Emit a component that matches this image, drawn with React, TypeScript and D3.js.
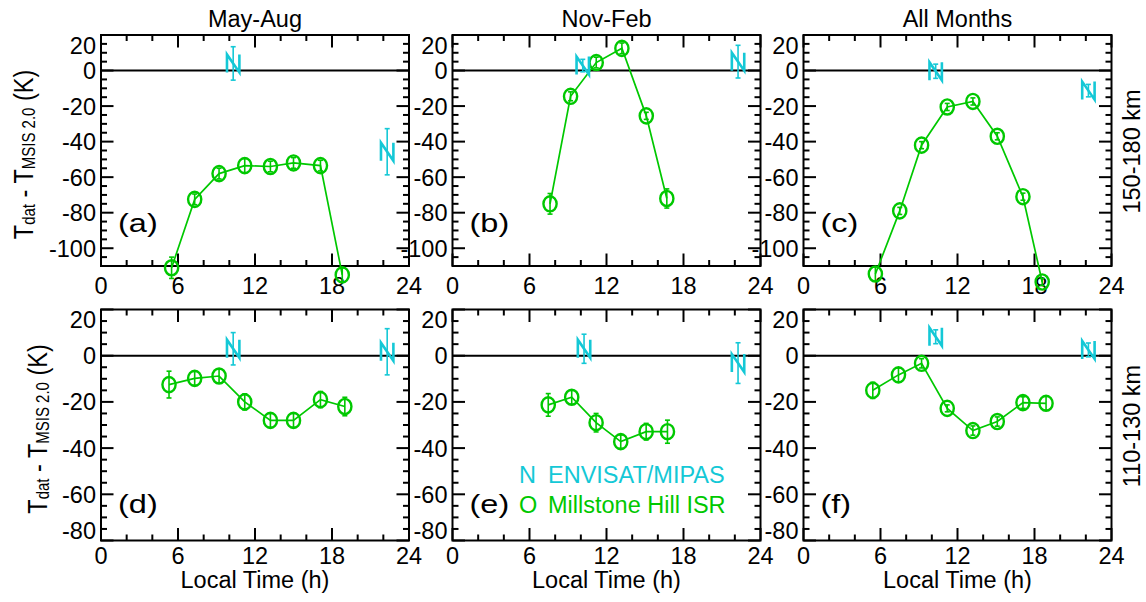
import React from 'react';
import * as d3 from 'd3';

// Temperature differences T_dat - T_MSIS2.0 (K) against local time (h).

// ---- 150-180 km ----
const isrTimeMayAugUpper = [5.5, 7.3, 9.2, 11.2, 13.2, 15.0, 17.1, 18.8];
const isrDiffMayAugUpper = [-111, -72.5, -58, -53.5, -54, -52, -53.5, -115];
const isrErrMayAugUpper = [6, 3, 3, 4, 3, 3, 3, 4];
const mipasTimeMayAugUpper = [10.3, 22.3];
const mipasDiffMayAugUpper = [4, -45.7];
const mipasErrMayAugUpper = [9.4, 13];

const isrTimeNovFebUpper = [7.6, 9.2, 11.2, 13.2, 15.1, 16.7];
const isrDiffNovFebUpper = [-75, -14.5, 4.5, 12.5, -25.5, -72];
const isrErrNovFebUpper = [5.8, 2.5, 3, 3, 2, 5.4];
const mipasTimeNovFebUpper = [10.15, 22.25];
const mipasDiffNovFebUpper = [2.8, 5];
const mipasErrNovFebUpper = [3.5, 9.2];

const isrTimeAllUpper = [5.6, 7.5, 9.2, 11.2, 13.2, 15.1, 17.1, 18.6];
const isrDiffAllUpper = [-114.5, -79, -42, -20.5, -17.4, -37, -71, -119];
const isrErrAllUpper = [4, 2, 2, 2, 2, 2, 2, 2];
const mipasTimeAllUpper = [10.3, 22.2];
const mipasDiffAllUpper = [-0.4, -11.3];
const mipasErrAllUpper = [4, 3.5];

// ---- 110-130 km ----
const isrTimeMayAugLower = [5.3, 7.3, 9.2, 11.2, 13.2, 15.0, 17.1, 19.0];
const isrDiffMayAugLower = [-12.5, -9.8, -8.8, -20, -28, -28, -19, -22];
const isrErrMayAugLower = [5.8, 3, 3, 3.5, 3, 3, 3.5, 4];
const mipasTimeMayAugLower = [10.3, 22.3];
const mipasDiffMayAugLower = [3, 1.7];
const mipasErrMayAugLower = [7, 10];

const isrTimeNovFebLower = [7.46, 9.29, 11.19, 13.11, 15.09, 16.75];
const isrDiffNovFebLower = [-21.3, -18, -29, -37.2, -32.9, -32.9];
const isrErrNovFebLower = [4.9, 3, 4, 2.9, 3.6, 5];
const mipasTimeNovFebLower = [10.25, 22.25];
const mipasDiffNovFebLower = [3, -3.2];
const mipasErrNovFebLower = [6.3, 8.8];

const isrTimeAllLower = [5.4, 7.4, 9.2, 11.2, 13.2, 15.1, 17.1, 18.9];
const isrDiffAllLower = [-15, -8.3, -3.3, -22.8, -32.4, -28.5, -20.3, -20.6];
const isrErrAllLower = [3.5, 3, 2, 1.5, 2, 2, 2.5, 3];
const mipasTimeAllLower = [10.3, 22.2];
const mipasDiffAllLower = [8.2, 2.5];
const mipasErrAllLower = [3, 3];

// ---- axes ----
const seasonTitles = ['May-Aug', 'Nov-Feb', 'All Months'];
const panelTags = [['(a)', '(b)', '(c)'], ['(d)', '(e)', '(f)']];
const altitudeLabels = ['150-180 km', '110-130 km'];
const xTicks = [0, 6, 12, 18, 24];
const yTicksUpper = [-100, -80, -60, -40, -20, 0, 20];
const yTicksLower = [-80, -60, -40, -20, 0, 20];
const yDomainUpper = [-110, 20];
const yDomainLower = [-80, 20];
const legendLabels = ['ENVISAT/MIPAS', 'Millstone Hill ISR'];

const FONT = "'Liberation Sans', Arial, Helvetica, sans-serif";
const GREEN = '#00c800';
const CYAN = '#14c8d6';

const colLeft = [101, 452.5, 803.5];
const panelW = 308;
const rowTop = [35, 309.5];
const panelH = 231;

type Series = { t: number[]; d: number[]; e: number[] };

const rows = [
  {
    domain: yDomainUpper,
    ticks: yTicksUpper,
    xLabelBase: 294,
    tagBase: 232,
    yTitleX: 33,
    panels: [
      { isr: { t: isrTimeMayAugUpper, d: isrDiffMayAugUpper, e: isrErrMayAugUpper }, mipas: { t: mipasTimeMayAugUpper, d: mipasDiffMayAugUpper, e: mipasErrMayAugUpper } },
      { isr: { t: isrTimeNovFebUpper, d: isrDiffNovFebUpper, e: isrErrNovFebUpper }, mipas: { t: mipasTimeNovFebUpper, d: mipasDiffNovFebUpper, e: mipasErrNovFebUpper } },
      { isr: { t: isrTimeAllUpper, d: isrDiffAllUpper, e: isrErrAllUpper }, mipas: { t: mipasTimeAllUpper, d: mipasDiffAllUpper, e: mipasErrAllUpper } },
    ],
  },
  {
    domain: yDomainLower,
    ticks: yTicksLower,
    xLabelBase: 564,
    tagBase: 513,
    yTitleX: 47,
    panels: [
      { isr: { t: isrTimeMayAugLower, d: isrDiffMayAugLower, e: isrErrMayAugLower }, mipas: { t: mipasTimeMayAugLower, d: mipasDiffMayAugLower, e: mipasErrMayAugLower } },
      { isr: { t: isrTimeNovFebLower, d: isrDiffNovFebLower, e: isrErrNovFebLower }, mipas: { t: mipasTimeNovFebLower, d: mipasDiffNovFebLower, e: mipasErrNovFebLower } },
      { isr: { t: isrTimeAllLower, d: isrDiffAllLower, e: isrErrAllLower }, mipas: { t: mipasTimeAllLower, d: mipasDiffAllLower, e: mipasErrAllLower } },
    ],
  },
];

function ErrorBar({ x, y0, y1, color, w }: { x: number; y0: number; y1: number; color: string; w: number }) {
  return (
    <g stroke={color} strokeWidth={w} fill="none">
      <line x1={x} x2={x} y1={y0} y2={y1} />
      <line x1={x - 2.5} x2={x + 2.5} y1={y0} y2={y0} />
      <line x1={x - 2.5} x2={x + 2.5} y1={y1} y2={y1} />
    </g>
  );
}

function Panel({ ri, ci }: { ri: number; ci: number }) {
  const row = rows[ri];
  const data = row.panels[ci];
  const left = colLeft[ci];
  const top = rowTop[ri];
  const right = left + panelW;
  const bottom = top + panelH;
  const x = d3.scaleLinear().domain([0, 24]).range([left, right]);
  const y = d3.scaleLinear().domain(row.domain).range([bottom, top]);

  const xMinor = d3.range(0, 24.01, 2);
  const yMinor = d3.range(row.domain[0], row.domain[1] + 0.01, 5);
  const isXMajor = (v: number) => v % 6 === 0;
  const isYMajor = (v: number) => v % 20 === 0;

  const isr: Series = data.isr;
  const mipas: Series = data.mipas;
  const pts = isr.t.map((t, i) => [x(t), y(isr.d[i])] as [number, number]);
  const linePath = d3.line()(pts) || '';

  return (
    <g>
      {/* ticks on all four sides, pointing inward */}
      <g stroke="#000" strokeWidth={2}>
        {xMinor.map((v) => {
          const L = isXMajor(v) ? 12.5 : 6;
          return (
            <g key={'x' + v}>
              <line x1={x(v)} x2={x(v)} y1={bottom} y2={bottom - L} />
              <line x1={x(v)} x2={x(v)} y1={top} y2={top + L} />
            </g>
          );
        })}
        {yMinor.map((v) => {
          const L = isYMajor(v) ? 12.5 : 6;
          return (
            <g key={'y' + v}>
              <line x1={left} x2={left + L} y1={y(v)} y2={y(v)} />
              <line x1={right} x2={right - L} y1={y(v)} y2={y(v)} />
            </g>
          );
        })}
      </g>
      {/* zero line */}
      <line x1={left} x2={right} y1={y(0)} y2={y(0)} stroke="#000" strokeWidth={2} />
      <rect x={left} y={top} width={panelW} height={panelH} fill="none" stroke="#000" strokeWidth={2} />

      {/* tick labels */}
      <g fontFamily={FONT} fontSize={23.5} fill="#000">
        {row.ticks.map((v) => {
          const cy = Math.max(top + 10, Math.min(bottom - 10, y(v)));
          return (
            <text key={'yl' + v} x={left - 5} y={cy + 8.5} textAnchor="end">
              {v}
            </text>
          );
        })}
        {xTicks.map((v) => (
          <text key={'xl' + v} x={x(v)} y={row.xLabelBase} textAnchor="middle">
            {v}
          </text>
        ))}
      </g>

      {/* panel tag */}
      <g transform={`translate(${left + 17},${row.tagBase}) scale(1.3,1)`}>
        <text x={0} y={0} fontFamily={FONT} fontSize={25} fill="#000">
          {panelTags[ri][ci]}
        </text>
      </g>

      {/* Millstone Hill ISR */}
      <path d={linePath} fill="none" stroke={GREEN} strokeWidth={1.7} />
      {isr.t.map((t, i) => (
        <ErrorBar key={'ie' + i} x={x(t)} y0={y(isr.d[i] + isr.e[i])} y1={y(isr.d[i] - isr.e[i])} color={GREEN} w={1.6} />
      ))}
      {isr.t.map((t, i) => (
        <ellipse key={'io' + i} cx={x(t)} cy={y(isr.d[i])} rx={6.6} ry={7.6} fill="none" stroke={GREEN} strokeWidth={2.4} />
      ))}

      {/* ENVISAT/MIPAS */}
      {mipas.t.map((t, i) => {
        const cx = x(t);
        const cy = y(mipas.d[i]);
        return (
          <g key={'m' + i}>
            <ErrorBar x={cx} y0={y(mipas.d[i] + mipas.e[i])} y1={y(mipas.d[i] - mipas.e[i])} color={CYAN} w={1.6} />
            <path
              d={`M${cx - 6.2},${cy + 9} L${cx - 6.2},${cy - 9} L${cx + 6.2},${cy + 9} L${cx + 6.2},${cy - 9}`}
              fill="none"
              stroke={CYAN}
              strokeWidth={2.6}
              strokeLinejoin="miter"
            />
          </g>
        );
      })}
    </g>
  );
}

function YTitle({ x, y }: { x: number; y: number }) {
  return (
    <g transform={`translate(${x},${y}) scale(1.2,1) rotate(-90)`}>
      <text x={0} y={0} textAnchor="middle" fontFamily={FONT} fontSize={23.5} fill="#000">
        T<tspan fontSize={15} dy={2}>dat</tspan>
        <tspan dy={-2}> - T</tspan>
        <tspan fontSize={15} dy={2}>MSIS 2.0</tspan>
        <tspan dy={-2}> (K)</tspan>
      </text>
    </g>
  );
}

export default function App() {
  return (
    <svg
      width={1146}
      height={602}
      viewBox="0 0 1146 602"
      style={{ position: 'absolute', left: 0, top: 0, background: '#fff' }}
    >
      <rect x={0} y={0} width={1146} height={602} fill="#fff" />
      {seasonTitles.map((t, ci) => (
        <text key={t} x={colLeft[ci] + panelW / 2} y={27} textAnchor="middle" fontFamily={FONT} fontSize={23.5} fill="#000">
          {t}
        </text>
      ))}
      {rows.map((row, ri) => (
        <g key={'r' + ri}>
          {row.panels.map((_, ci) => (
            <Panel key={'p' + ci} ri={ri} ci={ci} />
          ))}
          <YTitle x={row.yTitleX} y={rowTop[ri] + panelH / 2 + 4} />
          <g transform={`translate(1140,${rowTop[ri] + panelH / 2 + 1}) rotate(-90)`}>
            <text x={0} y={0} textAnchor="middle" fontFamily={FONT} fontSize={23.5} fill="#000">
              {altitudeLabels[ri]}
            </text>
          </g>
        </g>
      ))}
      {colLeft.map((l, ci) => (
        <text key={'lt' + ci} x={l + panelW / 2} y={588} textAnchor="middle" fontFamily={FONT} fontSize={23.5} fill="#000">
          Local Time (h)
        </text>
      ))}
      {/* legend */}
      <g fontFamily={FONT} fontSize={23.5}>
        <text x={519} y={483} fill={CYAN}>N</text>
        <text x={548} y={483} fill={CYAN}>{legendLabels[0]}</text>
        <text x={519} y={513} fill={GREEN}>O</text>
        <text x={548} y={513} fill={GREEN}>{legendLabels[1]}</text>
      </g>
    </svg>
  );
}
